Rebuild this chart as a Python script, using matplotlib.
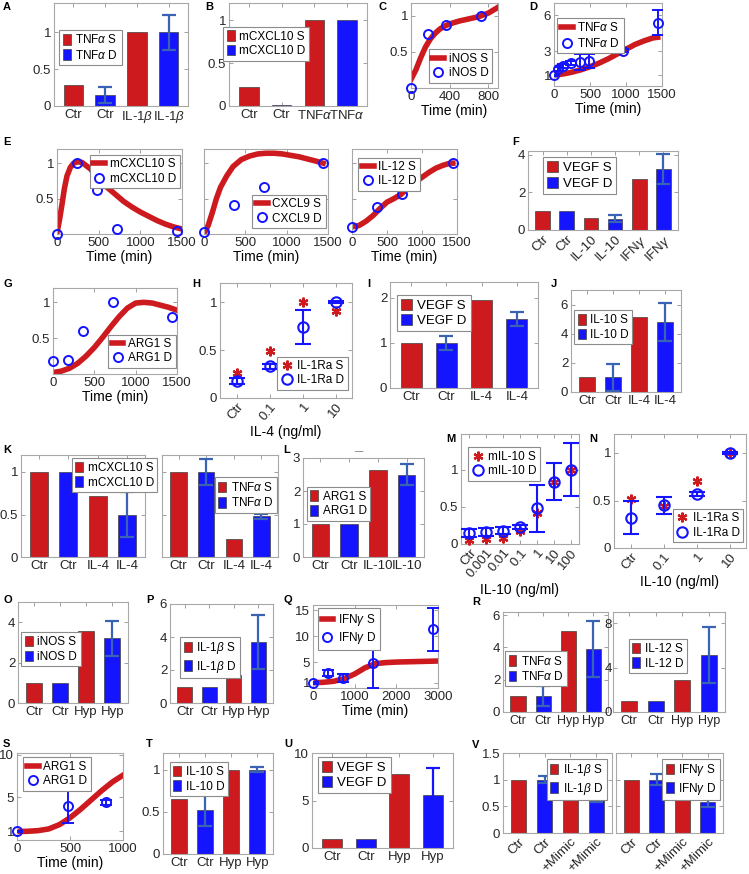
import matplotlib
matplotlib.use("Agg")
import matplotlib.pyplot as plt

plt.rcParams['font.family'] = ['Liberation Sans', 'DejaVu Sans']
plt.rcParams['mathtext.fontset'] = 'custom'
plt.rcParams['mathtext.rm'] = 'Liberation Sans'
plt.rcParams['mathtext.it'] = 'Liberation Sans:italic'
plt.rcParams['mathtext.bf'] = 'Liberation Sans:bold'

# ---------------- data ----------------
A_TICKS = ['Ctr', 'Ctr', r'IL-1$\beta$', r'IL-1$\beta$']
A_S = [0.28, 1.0]
A_D = [0.15, 1.0]
A_DERR = [0.105, 0.24]

B_TICKS = ['Ctr', 'Ctr', r'TNF$\alpha$', r'TNF$\alpha$']
B_S = [0.22, 1.0]
B_D = [0.01, 1.0]
B_DERR = [0, 0]

C_T = [0, 50, 100, 150, 200, 250, 300, 350, 400, 500, 600, 700, 800, 900]
C_SIM = [0.12, 0.25, 0.42, 0.57, 0.68, 0.76, 0.82, 0.86, 0.89, 0.93, 0.96, 0.99, 1.04, 1.12]
C_TD = [0, 180, 360, 720]
C_DAT = [0.0, 0.75, 0.87, 1.0]

D_T = [0, 125, 250, 375, 500, 625, 750, 875, 1000, 1125, 1250, 1375, 1440]
D_SIM = [1.0, 1.1, 1.25, 1.45, 1.7, 2.0, 2.35, 2.75, 3.15, 3.55, 3.85, 4.1, 4.15]
D_TD = [0, 60, 120, 240, 360, 480, 960, 1440]
D_DAT = [1.0, 1.5, 1.75, 2.0, 2.1, 2.2, 3.05, 5.35]
D_ERR = [0.05, 0.15, 0.15, 0.15, 0.7, 0.6, 0.1, 1.05]

E1_T = [0, 30, 60, 90, 120, 160, 200, 250, 300, 400, 500, 600, 700, 800, 900, 1000, 1100, 1200, 1300, 1400, 1500]
E1_SIM = [0.02, 0.2, 0.42, 0.65, 0.82, 0.94, 1.0, 1.02, 1.01, 0.92, 0.78, 0.66, 0.56, 0.46, 0.38, 0.31, 0.25, 0.19, 0.14, 0.1, 0.07]
E1_TD = [0, 240, 480, 720, 1440]
E1_DAT = [0.0, 1.0, 0.62, 0.07, 0.04]

E2_T = [0, 50, 100, 150, 200, 275, 350, 450, 550, 650, 750, 850, 950, 1050, 1150, 1250, 1350, 1440]
E2_SIM = [0.0, 0.12, 0.3, 0.5, 0.66, 0.82, 0.95, 1.05, 1.1, 1.13, 1.14, 1.14, 1.13, 1.11, 1.09, 1.06, 1.03, 1.0]
E2_TD = [0, 360, 720, 1440]
E2_DAT = [0.03, 0.41, 0.66, 1.0]

E3_T = [0, 100, 200, 300, 400, 500, 600, 700, 800, 900, 1000, 1100, 1200, 1300, 1400, 1440]
E3_SIM = [0.1, 0.12, 0.18, 0.26, 0.36, 0.45, 0.5, 0.56, 0.65, 0.73, 0.8, 0.87, 0.93, 0.97, 1.0, 1.0]
E3_TD = [0, 360, 720, 1440]
E3_DAT = [0.1, 0.38, 0.56, 1.0]

F_TICKS = ['Ctr', 'Ctr', 'IL-10', 'IL-10', r'IFN$\gamma$', r'IFN$\gamma$']
F_S = [1.0, 0.62, 2.7]
F_D = [1.0, 0.6, 3.24]
F_DERR = [0, 0.2, 0.8]

G_T = [0, 100, 200, 300, 400, 500, 600, 700, 800, 900, 1000, 1100, 1200, 1300, 1400, 1500]
G_SIM = [0.02, 0.04, 0.08, 0.15, 0.25, 0.37, 0.51, 0.66, 0.8, 0.92, 0.99, 1.0, 0.99, 0.96, 0.93, 0.89]
G_TD = [0, 180, 360, 720, 1440]
G_DAT = [0.18, 0.2, 0.6, 1.0, 0.8]

H_TICKS = ['Ctr', '0.1', '1', '10']
H_S = [0.26, 0.49, 1.0, 0.91]
H_D = [0.18, 0.33, 0.74, 1.0]
H_ERR = [0.03, 0.03, 0.18, 0.01]

I_TICKS = ['Ctr', 'Ctr', 'IL-4', 'IL-4']
I_S = [1.0, 1.95]
I_D = [1.0, 1.53]
I_DERR = [0.15, 0.16]

J_TICKS = ['Ctr', 'Ctr', 'IL-4', 'IL-4']
J_S = [1.0, 5.15]
J_D = [1.0, 4.78]
J_DERR = [0.9, 1.3]

K1_TICKS = ['Ctr', 'Ctr', 'IL-4', 'IL-4']
K1_S = [1.0, 0.72]
K1_D = [1.0, 0.5]
K1_DERR = [0, 0.26]

K2_TICKS = ['Ctr', 'Ctr', 'IL-4', 'IL-4']
K2_S = [1.0, 0.21]
K2_D = [1.0, 0.48]
K2_DERR = [0.15, 0.03]

L_TICKS = ['Ctr', 'Ctr', 'IL-10', 'IL-10']
L_S = [1.0, 2.64]
L_D = [1.0, 2.5]
L_DERR = [0, 0.32]

M_TICKS = ['Ctr', '0.001', '0.01', '0.1', '1', '10', '100']
M_S = [0.06, 0.07, 0.085, 0.17, 0.42, 0.83, 1.0]
M_D = [0.15, 0.16, 0.18, 0.23, 0.48, 0.84, 1.0]
M_ERR = [0.05, 0.05, 0.05, 0.03, 0.32, 0.25, 0.36]

N_TICKS = ['Ctr', '0.1', '1', '10']
N_S = [0.52, 0.44, 0.7, 1.0]
N_D = [0.32, 0.45, 0.57, 1.0]
N_ERR = [0.17, 0.09, 0.02, 0.01]

HYP_TICKS = ['Ctr', 'Ctr', 'Hyp', 'Hyp']
O_S = [1.0, 3.56]
O_D = [1.0, 3.21]
O_DERR = [0, 0.86]

P_S = [1.0, 1.7]
P_D = [1.0, 3.7]
P_DERR = [0, 1.64]

Q_T = [0, 250, 500, 750, 1000, 1250, 1500, 1750, 2000, 2500, 3000]
Q_SIM = [1.0, 1.1, 1.3, 1.8, 2.7, 3.9, 4.7, 4.9, 5.0, 5.1, 5.2]
Q_TD = [0, 360, 720, 1440, 2880]
Q_DAT = [1.0, 2.9, 1.9, 4.8, 11.3]
Q_ERR = [0.2, 0.5, 0.8, 4.8, 4.2]

R1_S = [1.0, 5.0]
R1_D = [1.0, 3.92]
R1_DERR = [0.63, 1.72]

R2_S = [1.0, 2.89]
R2_D = [1.0, 5.14]
R2_DERR = [0, 2.5]

S_T = [0, 100, 200, 300, 400, 500, 600, 700, 800, 900, 1000]
S_SIM = [1.0, 1.02, 1.1, 1.3, 1.8, 2.6, 3.6, 4.7, 5.8, 6.8, 7.6]
S_TD = [0, 480, 840]
S_DAT = [1.0, 4.0, 4.4]
S_ERR = [0.1, 2.05, 0.25]

T_S = [0.65, 1.0]
T_D = [0.52, 1.0]
T_DERR = [0.19, 0.03]

U_S = [1.0, 7.75]
U_D = [1.0, 5.6]
U_DERR = [0, 2.86]

V_TICKS = ['Ctr', 'Ctr', '+Mimic', '+Mimic']
V1_S = [1.0, 0.85]
V1_D = [1.0, 0.67]
V1_DERR = [0.07, 0.09]
V2_S = [1.0, 0.62]
V2_D = [1.0, 0.58]
V2_DERR = [0.1, 0.09]

# ---------------- style ----------------
RED = '#cc1a1f'
BLUE = '#1414ff'
ERRC = '#3a63b3'
EDGE = '#404040'
W, H = 749, 874

fig = plt.figure(figsize=(W / 100, H / 100), dpi=100)


def axes_px(l, t, r, b):
    return fig.add_axes([l / W, 1 - b / H, (r - l) / W, (b - t) / H])


def style(ax):
    for s in ax.spines.values():
        s.set_color('#a8a8a8')
        s.set_linewidth(0.8)
    ax.tick_params(direction='in', length=3, width=0.6, color='#909090', labelsize=9.5,
                   labelcolor='#262626', top=True, right=True, pad=2)


def yax(ax, ylim, yticks, show=True):
    ax.set_ylim(*ylim)
    ax.set_yticks(yticks)
    ax.set_yticklabels([f'{v:g}' for v in yticks] if show else [])


def legend(ax, loc, anchor, fs=8.5, bars=True, big=False):
    if bars:
        hl, hh = (0.8, 0.9) if big else (0.65, 1.0)
    else:
        hl, hh = 1.0, 0.7
    lg = ax.legend(loc=loc, bbox_to_anchor=anchor, fontsize=fs, frameon=True, fancybox=False,
                   borderaxespad=0, borderpad=0.3, labelspacing=0.2, handletextpad=0.4,
                   handlelength=hl, handleheight=hh, framealpha=1)
    lg.get_frame().set_edgecolor('#8c8c8c')
    lg.get_frame().set_linewidth(0.8)


def bar_panel(ax, ticks, s, d, derr, name, rot=0, errc=ERRC):
    n = len(s)
    xs = [2 * i + 1 for i in range(n)]
    xd = [2 * i + 2 for i in range(n)]
    ax.bar(xs, s, width=0.6, color=RED, edgecolor=EDGE, linewidth=0.5, label=name + ' S', zorder=2)
    ax.bar(xd, d, width=0.6, color=BLUE, edgecolor=EDGE, linewidth=0.5, label=name + ' D', zorder=2)
    ex = [x for x, e in zip(xd, derr) if e > 0]
    ey = [v for v, e in zip(d, derr) if e > 0]
    ee = [e for e in derr if e > 0]
    if ex:
        ax.errorbar(ex, ey, yerr=ee, fmt='none', ecolor=errc, elinewidth=1.6, capsize=5,
                    capthick=1.6, zorder=3)
    ax.set_xlim(0.4, 2 * n + 0.6)
    ax.set_xticks(range(1, 2 * n + 1))
    if rot:
        ax.set_xticklabels(ticks, rotation=rot, ha='right', rotation_mode='anchor')
    else:
        ax.set_xticklabels(ticks)
    style(ax)


def curve_panel(ax, t, sim, td, dat, derr, name):
    ax.plot(t, sim, color=RED, lw=4, label=name + ' S', zorder=2)
    if derr is not None:
        ax.errorbar(td, dat, yerr=derr, fmt='none', ecolor=BLUE, elinewidth=1.4, capsize=4,
                    capthick=1.4, zorder=3)
    ax.plot(td, dat, 'o', ls='none', mfc='none', mec=BLUE, ms=6.5, mew=1.4, label=name + ' D',
            zorder=4, clip_on=False)
    ax.set_xlabel('Time (min)', fontsize=10, labelpad=1)
    style(ax)


def dose_panel(ax, ticks, s, d, err, name, xlabel):
    x = list(range(1, len(ticks) + 1))
    ax.plot(x, s, ls='none', marker=(6, 2, 0), color=RED, mec=RED, ms=7, mew=1.6,
            label=name + ' S', zorder=3, clip_on=False)
    ax.errorbar(x, d, yerr=err, fmt='none', ecolor=BLUE, elinewidth=1.5, capsize=6,
                capthick=1.5, zorder=4)
    ax.plot(x, d, 'o', ls='none', mfc='none', mec=BLUE, ms=7.5, mew=1.5, label=name + ' D',
            zorder=5, clip_on=False)
    ax.set_xlim(0.5, len(ticks) + 0.5)
    ax.set_xticks(x)
    ax.set_xticklabels(ticks, rotation=50, ha='right', rotation_mode='anchor')
    ax.set_xlabel(xlabel, fontsize=10, labelpad=2)
    style(ax)


def plabel(x, y, s):
    fig.text(x / W, 1 - y / H, s, fontsize=8, fontweight='bold', va='center', ha='left')


# ---------------- row 1 ----------------
ax = axes_px(54, 3, 188, 106)
bar_panel(ax, A_TICKS, A_S, A_D, A_DERR, r'TNF$\alpha$')
yax(ax, (0, 1.4), [0, 0.5, 1])
legend(ax, 'upper left', (0.04, 0.74))

ax = axes_px(229, 3, 367, 106)
bar_panel(ax, B_TICKS, B_S, B_D, B_DERR, 'mCXCL10')
yax(ax, (0, 1.2), [0, 0.5, 1])
legend(ax, 'upper left', (-0.04, 0.77))

ax = axes_px(411, 3, 498, 88)
curve_panel(ax, C_T, C_SIM, C_TD, C_DAT, None, 'iNOS')
ax.set_xlim(0, 900)
ax.set_xticks([0, 400, 800])
yax(ax, (0, 1.18), [0.5, 1])
legend(ax, 'lower right', (0.93, 0.06), bars=False)

ax = axes_px(554, 3, 662, 86)
curve_panel(ax, D_T, D_SIM, D_TD, D_DAT, D_ERR, r'TNF$\alpha$')
ax.set_xlim(0, 1500)
ax.set_xticks([0, 500, 1000, 1500])
yax(ax, (0.1, 7), [1, 3, 6])
legend(ax, 'upper left', (0.03, 0.82), bars=False)

# ---------------- row 2 ----------------
ax = axes_px(57, 149, 182, 234)
curve_panel(ax, E1_T, E1_SIM, E1_TD, E1_DAT, None, 'mCXCL10')
ax.set_xlim(0, 1500)
ax.set_xticks([0, 500, 1000, 1500])
yax(ax, (0, 1.2), [0.5, 1])
legend(ax, 'upper right', (0.98, 0.93), bars=False)

ax = axes_px(204, 149, 328, 234)
curve_panel(ax, E2_T, E2_SIM, E2_TD, E2_DAT, None, 'CXCL9')
ax.set_xlim(0, 1500)
ax.set_xticks([0, 500, 1000, 1500])
yax(ax, (0, 1.2), [0.5, 1], show=False)
legend(ax, 'lower right', (0.98, 0.07), bars=False)

ax = axes_px(352, 149, 457, 234)
curve_panel(ax, E3_T, E3_SIM, E3_TD, E3_DAT, None, 'IL-12')
ax.set_xlim(0, 1500)
ax.set_xticks([0, 500, 1000, 1500])
yax(ax, (0, 1.2), [0.5, 1], show=False)
legend(ax, 'upper left', (0.06, 0.9), bars=False)

ax = axes_px(528, 151, 678, 230)
bar_panel(ax, F_TICKS, F_S, F_D, F_DERR, 'VEGF', rot=45)
yax(ax, (0, 4.2), [0, 2, 4])
legend(ax, 'upper left', (0.1, 0.92), fs=9.5, big=True)

# ---------------- row 3 ----------------
ax = axes_px(53, 288, 177, 374)
curve_panel(ax, G_T, G_SIM, G_TD, G_DAT, None, 'ARG1')
ax.set_xlim(0, 1500)
ax.set_xticks([0, 500, 1000, 1500])
yax(ax, (0, 1.2), [0.5, 1])
legend(ax, 'lower right', (0.99, 0.07), bars=False)

ax = axes_px(220, 283, 352, 398)
dose_panel(ax, H_TICKS, H_S, H_D, H_ERR, 'IL-1Ra', 'IL-4 (ng/ml)')
yax(ax, (0, 1.2), [0, 0.5, 1])
legend(ax, 'lower right', (0.97, 0.07), bars=False)

ax = axes_px(390, 282, 538, 388)
bar_panel(ax, I_TICKS, I_S, I_D, I_DERR, 'VEGF')
yax(ax, (0, 2.35), [0, 1, 2])
legend(ax, 'upper left', (0.05, 0.88), fs=9.5, big=True)

ax = axes_px(571, 290, 681, 392)
bar_panel(ax, J_TICKS, J_S, J_D, J_DERR, 'IL-10')
yax(ax, (0, 7), [0, 2, 4, 6])
legend(ax, 'upper left', (0.03, 0.8))

# ---------------- row 4 ----------------
ax = axes_px(21, 455, 145, 557)
bar_panel(ax, K1_TICKS, K1_S, K1_D, K1_DERR, 'mCXCL10')
yax(ax, (0, 1.2), [0, 0.5, 1])
legend(ax, 'upper right', (1.10, 0.97))

ax = axes_px(162, 455, 278, 557)
bar_panel(ax, K2_TICKS, K2_S, K2_D, K2_DERR, r'TNF$\alpha$')
yax(ax, (0, 1.2), [0, 0.5, 1], show=False)
legend(ax, 'upper right', (0.99, 0.78))

ax = axes_px(303, 458, 424, 557)
bar_panel(ax, L_TICKS, L_S, L_D, L_DERR, 'ARG1')
yax(ax, (0, 3), [0, 1, 2, 3])
legend(ax, 'upper left', (0.03, 0.71))
fig.text(359 / W, 1 - 452 / H, '\u2014', fontsize=6, ha='center', va='center', color='#262626')

ax = axes_px(461, 434, 579, 544)
dose_panel(ax, M_TICKS, M_S, M_D, M_ERR, 'mIL-10', 'IL-10 (ng/ml)')
yax(ax, (0, 1.48), [0, 0.5, 1])
legend(ax, 'upper left', (0.06, 0.88), bars=False)

ax = axes_px(614, 434, 746, 548)
dose_panel(ax, N_TICKS, N_S, N_D, N_ERR, 'IL-1Ra', 'IL-10 (ng/ml)')
yax(ax, (0, 1.2), [0, 0.5, 1])
legend(ax, 'lower right', (0.98, 0.05), bars=False)

# ---------------- row 5 ----------------
ax = axes_px(18, 602, 128, 703)
bar_panel(ax, HYP_TICKS, O_S, O_D, O_DERR, 'iNOS')
yax(ax, (0, 5), [0, 2, 4])
legend(ax, 'upper left', (0.03, 0.70))

ax = axes_px(170, 604, 273, 703)
bar_panel(ax, HYP_TICKS, P_S, P_D, P_DERR, r'IL-1$\beta$')
yax(ax, (0, 6), [0, 2, 4, 6])
legend(ax, 'upper left', (0.1, 0.67))

ax = axes_px(313, 605, 438, 688)
curve_panel(ax, Q_T, Q_SIM, Q_TD, Q_DAT, Q_ERR, r'IFN$\gamma$')
ax.set_xlim(0, 3000)
ax.set_xticks([0, 1000, 2000, 3000])
yax(ax, (0, 16), [1, 5, 10, 15])
legend(ax, 'upper left', (0.04, 0.96), bars=False)

ax = axes_px(503, 612, 608, 712)
bar_panel(ax, HYP_TICKS, R1_S, R1_D, R1_DERR, r'TNF$\alpha$')
yax(ax, (0, 6.2), [0, 2, 4, 6])
ax.tick_params(axis='x', labelsize=9)
legend(ax, 'upper left', (0.02, 0.61))

ax = axes_px(613, 612, 725, 712)
bar_panel(ax, HYP_TICKS, R2_S, R2_D, R2_DERR, 'IL-12')
yax(ax, (0, 9), [0, 4, 8])
ax.tick_params(axis='x', labelsize=9)
ax.tick_params(axis='y', pad=1)
legend(ax, 'upper left', (0.14, 0.73))

# ---------------- row 6 ----------------
ax = axes_px(17, 753, 123, 840)
curve_panel(ax, S_T, S_SIM, S_TD, S_DAT, S_ERR, 'ARG1')
ax.set_xlim(0, 1000)
ax.set_xticks([0, 500, 1000])
yax(ax, (0, 10.2), [1, 5, 10])
legend(ax, 'upper left', (0.06, 0.95), bars=False)

ax = axes_px(163, 753, 273, 854)
bar_panel(ax, HYP_TICKS, T_S, T_D, T_DERR, 'IL-10')
yax(ax, (0, 1.2), [0, 0.5, 1])
legend(ax, 'upper left', (0.06, 0.91))

ax = axes_px(312, 753, 453, 848)
bar_panel(ax, HYP_TICKS, U_S, U_D, U_DERR, 'VEGF', errc=BLUE)
yax(ax, (0, 10), [0, 5, 10])
legend(ax, 'upper left', (0.04, 0.96), fs=9.5, big=True)

ax = axes_px(503, 753, 612, 833)
bar_panel(ax, V_TICKS, V1_S, V1_D, V1_DERR, r'IL-1$\beta$', rot=45)
yax(ax, (0, 1.5), [0, 0.5, 1, 1.5])
legend(ax, 'upper right', (0.95, 0.93))

ax = axes_px(616, 753, 723, 833)
bar_panel(ax, V_TICKS, V2_S, V2_D, V2_DERR, r'IFN$\gamma$', rot=45)
yax(ax, (0, 1.5), [0, 0.5, 1, 1.5], show=False)
legend(ax, 'upper right', (0.97, 0.93))

# ---------------- panel letters ----------------
for x, y, s in [(3, 7, 'A'), (205, 7, 'B'), (379, 7, 'C'), (529, 7, 'D'),
                (3, 142, 'E'), (512, 142, 'F'),
                (3, 284, 'G'), (192, 284, 'H'), (367, 284, 'I'), (551, 284, 'J'),
                (3, 450, 'K'), (283, 450, 'L'), (446, 439, 'M'), (589, 439, 'N'),
                (4, 600, 'O'), (146, 600, 'P'), (284, 600, 'Q'), (472, 602, 'R'),
                (3, 744, 'S'), (146, 744, 'T'), (284, 744, 'U'), (472, 745, 'V')]:
    plabel(x, y, s)

fig.savefig('out.png', dpi=100)
